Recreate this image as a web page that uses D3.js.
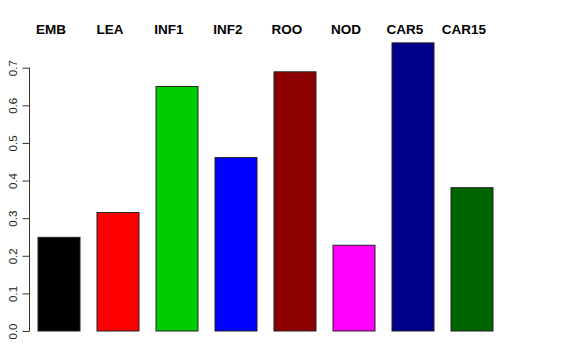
<!DOCTYPE html>
<html>
<head>
<meta charset="utf-8">
<script src="https://cdn.jsdelivr.net/npm/d3@7"></script>
<style>
  body { margin: 0; background: #fff; }
  svg { display: block; }
</style>
</head>
<body>
<div id="chart"></div>
<script>
var categories = ["EMB", "LEA", "INF1", "INF2", "ROO", "NOD", "CAR5", "CAR15"];
var values = [0.249, 0.315, 0.650, 0.461, 0.689, 0.228, 0.766, 0.381];
var barColors = ["#000000", "#ff0000", "#00cd00", "#0000ff", "#8b0000", "#ff00ff", "#00008b", "#006400"];
var yTicks = [0, 0.1, 0.2, 0.3, 0.4, 0.5, 0.6, 0.7];

var width = 576, height = 360;

var svg = d3.select("#chart").append("svg")
    .attr("width", width)
    .attr("height", height);

var x = d3.scaleBand()
    .domain(categories)
    .range([38, 493])
    .paddingInner(17 / 59)
    .paddingOuter(0);

var y = d3.scaleLinear()
    .domain([0, 0.7])
    .range([331, 67.7]);

// bars
svg.selectAll("rect.bar")
    .data(values)
    .enter().append("rect")
    .attr("class", "bar")
    .attr("x", function(d, i){ return x(categories[i]); })
    .attr("y", function(d){ return y(d); })
    .attr("width", x.bandwidth())
    .attr("height", function(d){ return y(0) - y(d); })
    .attr("fill", function(d, i){ return barColors[i]; })
    .attr("stroke", "#222")
    .attr("stroke-width", 1);

// y axis, R style (rotated labels)
var yAxis = d3.axisLeft(y)
    .tickValues(yTicks)
    .tickSize(7)
    .tickPadding(5)
    .tickFormat(d3.format(".1f"));

var gy = svg.append("g")
    .attr("transform", "translate(29.5,0)")
    .call(yAxis);

gy.select(".domain")
    .attr("d", "M-7," + y(0) + "H0V" + y(0.7) + "H-7")
    .attr("d", "M0," + y(0) + "V" + y(0.7))
    .attr("stroke", "#333");
gy.selectAll(".tick line").attr("stroke", "#333");
gy.selectAll(".tick text")
    .attr("font-family", "Liberation Sans, Arial, sans-serif")
    .attr("font-size", 11.5)
    .attr("fill", "#222")
    .attr("text-anchor", "middle")
    .attr("dy", 0)
    .attr("x", 0)
    .attr("transform", "translate(-13,0) rotate(-90)");

// category labels above the plot
svg.selectAll("text.cat")
    .data(categories)
    .enter().append("text")
    .attr("class", "cat")
    .attr("x", function(d){ return x(d) + x.bandwidth() / 2 - 8; })
    .attr("y", 34)
    .attr("text-anchor", "middle")
    .attr("font-family", "Liberation Sans, Arial, sans-serif")
    .attr("font-weight", "bold")
    .attr("font-size", 13.5)
    .attr("fill", "#000")
    .text(function(d){ return d; });
</script>
</body>
</html>
